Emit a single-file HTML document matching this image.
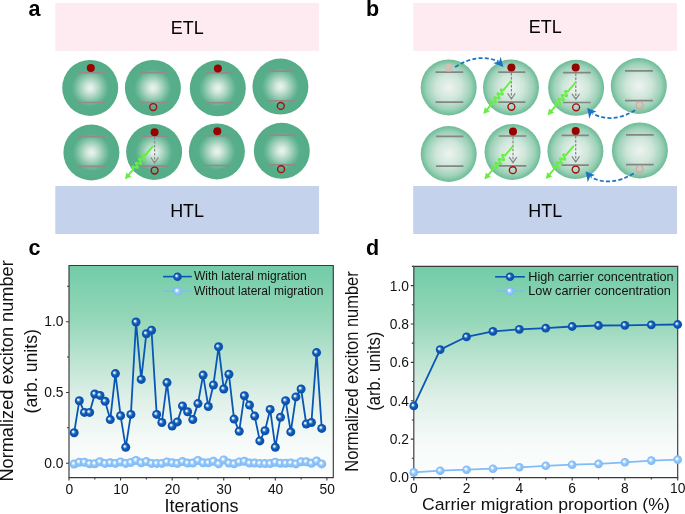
<!DOCTYPE html>
<html><head><meta charset="utf-8"><style>
html,body{margin:0;padding:0;background:#fff;overflow:hidden;}
svg{display:block;will-change:transform;}
text{font-family:"Liberation Sans", sans-serif;}
</style></head><body>
<svg width="685" height="514" viewBox="0 0 685 514">

<defs>
 <radialGradient id="gA" cx="50%" cy="50%" r="50%">
  <stop offset="0" stop-color="#eef3f0"/>
  <stop offset="0.14" stop-color="#d6e9e0"/>
  <stop offset="0.36" stop-color="#9fd0b9"/>
  <stop offset="0.52" stop-color="#75bd9d"/>
  <stop offset="0.66" stop-color="#57ae8a"/>
  <stop offset="1" stop-color="#55ad88"/>
 </radialGradient>
 <radialGradient id="gB" cx="50%" cy="50%" r="50%">
  <stop offset="0" stop-color="#eef3f0"/>
  <stop offset="0.45" stop-color="#cfe6da"/>
  <stop offset="0.8" stop-color="#9dd1b8"/>
  <stop offset="1" stop-color="#6abb96"/>
 </radialGradient>
 <linearGradient id="bg" x1="0" y1="0" x2="0" y2="1">
  <stop offset="0" stop-color="#72cca7"/>
  <stop offset="0.256" stop-color="#95d7b9"/>
  <stop offset="0.445" stop-color="#bde4d2"/>
  <stop offset="0.635" stop-color="#e0f0e9"/>
  <stop offset="0.825" stop-color="#f5faf8"/>
  <stop offset="1" stop-color="#fdfefe"/>
 </linearGradient>
 <radialGradient id="sD" cx="50%" cy="50%" r="50%" fx="35%" fy="37%">
  <stop offset="0" stop-color="#ffffff"/>
  <stop offset="0.14" stop-color="#e6eef9"/>
  <stop offset="0.4" stop-color="#3a7cc6"/>
  <stop offset="0.58" stop-color="#0b57b5"/>
  <stop offset="1" stop-color="#0a50aa"/>
 </radialGradient>
 <radialGradient id="sL" cx="50%" cy="50%" r="50%" fx="38%" fy="38%">
  <stop offset="0" stop-color="#ffffff"/>
  <stop offset="0.18" stop-color="#f2f8fe"/>
  <stop offset="0.48" stop-color="#98c9f8"/>
  <stop offset="1" stop-color="#78b8f8"/>
 </radialGradient>
</defs>

<text transform="translate(28.60 15.90)" font-size="21.5" text-anchor="start" font-weight="bold" fill="#000" >a</text>
<text transform="translate(366.00 15.90)" font-size="21.5" text-anchor="start" font-weight="bold" fill="#000" >b</text>
<text transform="translate(28.60 255.20)" font-size="21.5" text-anchor="start" font-weight="bold" fill="#000" >c</text>
<text transform="translate(366.00 254.90)" font-size="21.5" text-anchor="start" font-weight="bold" fill="#000" >d</text>
<rect x="55.3" y="2.9" width="263.8" height="48" fill="#feebf1"/>
<rect x="55.3" y="186" width="263.8" height="48" fill="#c4d2ec"/>
<rect x="413.2" y="2.9" width="263.8" height="48" fill="#feebf1"/>
<rect x="413.2" y="186" width="263.8" height="48" fill="#c4d2ec"/>
<text transform="translate(187.20 33.70) scale(0.9700 1)" font-size="18.5" text-anchor="middle" font-weight="normal" fill="#000" >ETL</text>
<text transform="translate(187.10 216.80) scale(0.9700 1)" font-size="18.5" text-anchor="middle" font-weight="normal" fill="#000" >HTL</text>
<text transform="translate(545.30 33.40) scale(0.9700 1)" font-size="18.5" text-anchor="middle" font-weight="normal" fill="#000" >ETL</text>
<text transform="translate(545.30 216.50) scale(0.9700 1)" font-size="18.5" text-anchor="middle" font-weight="normal" fill="#000" >HTL</text>
<circle cx="90.2" cy="87.9" r="28" fill="url(#gA)"/>
<path d="M77.5 72.6H105.0M77.5 102.5H105.0" stroke="#948a8d" stroke-width="1.6" fill="none"/>
<circle cx="152.9" cy="87.9" r="28" fill="url(#gA)"/>
<path d="M139.9 72.6H167.6M139.9 102.5H167.6" stroke="#948a8d" stroke-width="1.6" fill="none"/>
<circle cx="217.8" cy="88.3" r="28" fill="url(#gA)"/>
<path d="M205.0 72.9H232.6M205.0 102.8H232.6" stroke="#948a8d" stroke-width="1.6" fill="none"/>
<circle cx="280.4" cy="86.6" r="28" fill="url(#gA)"/>
<path d="M267.3 71.1H295.0M267.3 100.9H295.0" stroke="#948a8d" stroke-width="1.6" fill="none"/>
<circle cx="91.4" cy="152.5" r="28" fill="url(#gA)"/>
<path d="M78.1 136.6H105.5M78.1 166.4H105.5" stroke="#948a8d" stroke-width="1.6" fill="none"/>
<circle cx="154.1" cy="152.0" r="28" fill="url(#gA)"/>
<path d="M140.6 136.3H167.8M140.6 166.1H167.8" stroke="#948a8d" stroke-width="1.6" fill="none"/>
<circle cx="216.9" cy="151.4" r="28" fill="url(#gA)"/>
<path d="M203.6 135.7H231.0M203.6 165.5H231.0" stroke="#948a8d" stroke-width="1.6" fill="none"/>
<circle cx="281.8" cy="150.8" r="28" fill="url(#gA)"/>
<path d="M268.2 135.1H295.6M268.2 164.9H295.6" stroke="#948a8d" stroke-width="1.6" fill="none"/>
<circle cx="90.8" cy="67.9" r="4.0" fill="#990000"/>
<circle cx="217.9" cy="68.5" r="4.0" fill="#990000"/>
<circle cx="154.6" cy="132.2" r="4.0" fill="#990000"/>
<circle cx="217.3" cy="131.3" r="4.0" fill="#990000"/>
<circle cx="153.2" cy="107.0" r="3.45" fill="none" stroke="#a50c0c" stroke-width="1.35"/>
<circle cx="280.8" cy="105.9" r="3.45" fill="none" stroke="#a50c0c" stroke-width="1.35"/>
<circle cx="154.6" cy="170.5" r="3.45" fill="none" stroke="#a50c0c" stroke-width="1.35"/>
<circle cx="281.1" cy="169.2" r="3.45" fill="none" stroke="#a50c0c" stroke-width="1.35"/>
<path d="M154.6 137.0V162.6" stroke="#8f8a8c" stroke-width="1.2" stroke-dasharray="2.6 1.4" fill="none"/>
<path d="M150.8 157.4L154.6 163.0L158.4 157.4" stroke="#8f8a8c" stroke-width="1.2" fill="none"/>
<path d="M152.60 146.60 L145.12 155.43 L144.07 155.03 L143.18 154.77 L142.60 154.77 L142.38 155.08 L142.53 155.69 L142.97 156.55 L143.54 157.53 L144.10 158.49 L144.46 159.29 L144.51 159.83 L144.19 160.05 L143.51 159.96 L142.56 159.65 L141.49 159.23 L140.47 158.86 L139.66 158.66 L139.17 158.75 L139.07 159.15 L139.31 159.84 L139.80 160.75 L140.39 161.74 L140.90 162.67 L141.19 163.40 L141.14 163.85 L140.70 163.97 L139.93 163.81 L138.93 163.46 L137.86 163.04 L136.88 162.70 L136.16 162.58 L135.78 162.75 L135.78 163.24 L136.11 164.01 L136.64 164.95 L137.23 165.94 L137.69 166.83 L137.89 167.48 L137.73 167.84 L137.19 167.88 L136.34 167.65 L135.30 167.26 L134.24 166.85 L133.32 166.57 L132.69 166.52 L132.42 166.78 L132.52 167.36 L132.92 168.19 L133.49 169.16 L128.58 174.95" stroke="#66ee44" stroke-width="1.9" fill="none" stroke-linejoin="round" stroke-linecap="round"/>
<path d="M124.90 179.30L126.39 172.44L131.43 176.70Z" fill="#66ee44"/>
<circle cx="448.7" cy="87.4" r="28" fill="url(#gB)"/>
<path d="M435.5 72.2H463.3M435.5 102.1H463.3" stroke="#858585" stroke-width="1.7" fill="none"/>
<circle cx="511.0" cy="87.5" r="28" fill="url(#gB)"/>
<path d="M498.2 72.2H525.4M498.2 102.1H525.4" stroke="#858585" stroke-width="1.7" fill="none"/>
<circle cx="576.1" cy="87.8" r="28" fill="url(#gB)"/>
<path d="M562.9 72.6H590.8M562.9 102.5H590.8" stroke="#858585" stroke-width="1.7" fill="none"/>
<circle cx="638.8" cy="86.0" r="28" fill="url(#gB)"/>
<path d="M625.0 70.8H653.0M625.0 100.7H653.0" stroke="#858585" stroke-width="1.7" fill="none"/>
<circle cx="448.7" cy="154.0" r="28" fill="url(#gB)"/>
<path d="M436.0 136.4H463.5M436.0 166.2H463.5" stroke="#858585" stroke-width="1.7" fill="none"/>
<circle cx="512.6" cy="152.0" r="28" fill="url(#gB)"/>
<path d="M498.7 136.0H526.3M498.7 165.8H526.3" stroke="#858585" stroke-width="1.7" fill="none"/>
<circle cx="575.4" cy="151.1" r="28" fill="url(#gB)"/>
<path d="M561.5 135.3H588.8M561.5 165.1H588.8" stroke="#858585" stroke-width="1.7" fill="none"/>
<circle cx="639.9" cy="150.4" r="28" fill="url(#gB)"/>
<path d="M626.0 134.8H653.7M626.0 164.6H653.7" stroke="#858585" stroke-width="1.7" fill="none"/>
<circle cx="448.8" cy="67.7" r="3.9" fill="#d5beb5"/>
<circle cx="639.6" cy="105.4" r="3.4" fill="none" stroke="#e0a09a" stroke-width="1.1"/>
<circle cx="639.6" cy="169.0" r="3.4" fill="none" stroke="#e0a09a" stroke-width="1.1"/>
<circle cx="511.4" cy="67.6" r="4.0" fill="#990000"/>
<circle cx="575.7" cy="67.6" r="4.0" fill="#990000"/>
<circle cx="513.0" cy="131.5" r="4.0" fill="#990000"/>
<circle cx="575.7" cy="130.9" r="4.0" fill="#990000"/>
<circle cx="511.4" cy="106.8" r="3.45" fill="none" stroke="#a50c0c" stroke-width="1.35"/>
<circle cx="576.1" cy="107.3" r="3.45" fill="none" stroke="#a50c0c" stroke-width="1.35"/>
<circle cx="512.8" cy="170.2" r="3.45" fill="none" stroke="#a50c0c" stroke-width="1.35"/>
<circle cx="575.7" cy="169.5" r="3.45" fill="none" stroke="#a50c0c" stroke-width="1.35"/>
<path d="M511.4 73.0V98.6" stroke="#858585" stroke-width="1.2" stroke-dasharray="2.6 1.4" fill="none"/>
<path d="M507.6 93.4L511.4 99.0L515.2 93.4" stroke="#858585" stroke-width="1.2" fill="none"/>
<path d="M575.8 73.3V99.0" stroke="#858585" stroke-width="1.2" stroke-dasharray="2.6 1.4" fill="none"/>
<path d="M572.0 93.8L575.8 99.3L579.6 93.8" stroke="#858585" stroke-width="1.2" fill="none"/>
<path d="M513.0 136.7V162.3" stroke="#858585" stroke-width="1.2" stroke-dasharray="2.6 1.4" fill="none"/>
<path d="M509.2 157.1L513.0 162.7L516.8 157.1" stroke="#858585" stroke-width="1.2" fill="none"/>
<path d="M575.7 136.0V161.6" stroke="#858585" stroke-width="1.2" stroke-dasharray="2.6 1.4" fill="none"/>
<path d="M571.9 156.4L575.7 162.0L579.5 156.4" stroke="#858585" stroke-width="1.2" fill="none"/>
<path d="M510.90 81.20 L503.45 90.06 L502.39 89.66 L501.51 89.40 L500.92 89.40 L500.71 89.71 L500.86 90.33 L501.30 91.19 L501.88 92.17 L502.43 93.12 L502.80 93.92 L502.85 94.46 L502.53 94.68 L501.85 94.59 L500.90 94.28 L499.83 93.87 L498.81 93.50 L497.99 93.31 L497.51 93.39 L497.40 93.79 L497.65 94.49 L498.14 95.40 L498.73 96.38 L499.25 97.31 L499.54 98.04 L499.49 98.49 L499.06 98.62 L498.29 98.46 L497.29 98.11 L496.21 97.69 L495.23 97.36 L494.51 97.24 L494.13 97.41 L494.13 97.90 L494.46 98.67 L495.00 99.61 L495.59 100.60 L496.05 101.48 L496.25 102.14 L496.09 102.49 L495.56 102.53 L494.71 102.31 L493.67 101.92 L492.60 101.52 L491.68 101.24 L491.05 101.19 L490.78 101.46 L490.88 102.03 L491.29 102.86 L491.86 103.83 L486.97 109.64" stroke="#66ee44" stroke-width="1.9" fill="none" stroke-linejoin="round" stroke-linecap="round"/>
<path d="M483.30 114.00L484.77 107.13L489.82 111.38Z" fill="#66ee44"/>
<path d="M575.20 82.90 L567.75 91.65 L566.70 91.24 L565.82 90.98 L565.23 90.97 L565.02 91.28 L565.17 91.90 L565.60 92.75 L566.18 93.73 L566.73 94.69 L567.09 95.49 L567.14 96.03 L566.82 96.24 L566.14 96.15 L565.20 95.83 L564.13 95.41 L563.11 95.04 L562.30 94.84 L561.82 94.91 L561.71 95.31 L561.95 96.01 L562.45 96.92 L563.03 97.91 L563.55 98.83 L563.83 99.56 L563.78 100.01 L563.35 100.13 L562.58 99.97 L561.58 99.61 L560.51 99.18 L559.54 98.84 L558.82 98.72 L558.44 98.88 L558.44 99.37 L558.76 100.14 L559.30 101.08 L559.88 102.07 L560.35 102.95 L560.54 103.61 L560.38 103.96 L559.85 104.00 L559.00 103.77 L557.97 103.37 L556.91 102.96 L555.99 102.67 L555.36 102.62 L555.09 102.88 L555.19 103.45 L555.59 104.28 L556.16 105.26 L551.30 110.96" stroke="#66ee44" stroke-width="1.9" fill="none" stroke-linejoin="round" stroke-linecap="round"/>
<path d="M547.60 115.30L549.11 108.44L554.13 112.72Z" fill="#66ee44"/>
<path d="M512.40 146.80 L504.84 155.60 L503.79 155.20 L502.91 154.93 L502.32 154.92 L502.10 155.23 L502.25 155.85 L502.67 156.72 L503.24 157.70 L503.79 158.67 L504.15 159.47 L504.20 160.00 L503.87 160.22 L503.19 160.13 L502.24 159.81 L501.17 159.39 L500.15 159.01 L499.34 158.81 L498.86 158.89 L498.75 159.29 L498.98 159.99 L499.47 160.90 L500.05 161.90 L500.56 162.83 L500.84 163.57 L500.78 164.01 L500.35 164.14 L499.58 163.97 L498.58 163.61 L497.51 163.18 L496.53 162.84 L495.81 162.71 L495.43 162.88 L495.42 163.38 L495.74 164.15 L496.27 165.10 L496.85 166.09 L497.31 166.98 L497.50 167.64 L497.34 167.99 L496.80 168.03 L495.95 167.79 L494.91 167.40 L493.85 166.98 L492.94 166.69 L492.30 166.64 L492.03 166.90 L492.13 167.48 L492.52 168.32 L493.08 169.29 L488.11 175.08" stroke="#66ee44" stroke-width="1.9" fill="none" stroke-linejoin="round" stroke-linecap="round"/>
<path d="M484.40 179.40L485.94 172.55L490.94 176.85Z" fill="#66ee44"/>
<path d="M573.30 146.30 L565.85 155.13 L564.80 154.73 L563.91 154.47 L563.32 154.47 L563.11 154.78 L563.26 155.40 L563.70 156.25 L564.28 157.23 L564.83 158.19 L565.20 158.99 L565.25 159.53 L564.93 159.74 L564.25 159.66 L563.30 159.35 L562.23 158.93 L561.21 158.56 L560.40 158.37 L559.91 158.45 L559.81 158.85 L560.05 159.54 L560.54 160.45 L561.13 161.44 L561.65 162.37 L561.94 163.10 L561.89 163.54 L561.46 163.67 L560.69 163.51 L559.69 163.16 L558.61 162.74 L557.64 162.41 L556.91 162.28 L556.53 162.45 L556.53 162.94 L556.86 163.71 L557.40 164.66 L557.99 165.64 L558.45 166.52 L558.65 167.18 L558.49 167.54 L557.95 167.57 L557.11 167.35 L556.07 166.96 L555.00 166.55 L554.08 166.27 L553.45 166.22 L553.18 166.49 L553.28 167.06 L553.69 167.89 L554.26 168.86 L549.38 174.64" stroke="#66ee44" stroke-width="1.9" fill="none" stroke-linejoin="round" stroke-linecap="round"/>
<path d="M545.70 179.00L547.18 172.13L552.22 176.39Z" fill="#66ee44"/>
<path d="M455.1 67.1Q478 52.4 498.5 61.5" stroke="#1a72c6" stroke-width="1.75" stroke-dasharray="4.0 2.3" fill="none"/>
<path d="M503.4 67.1L500.6 56.8L499.2 61.6L493.2 63.0Z" fill="#1a72c6"/>
<path d="M635.2 110.2Q612 124 592.5 113.5" stroke="#1a72c6" stroke-width="1.75" stroke-dasharray="4.0 2.3" fill="none"/>
<path d="M587.2 108.0L589.3 118.8L591.4 113.6L596.4 111.6Z" fill="#1a72c6"/>
<path d="M633.7 173.4Q610 187.5 591 177" stroke="#1a72c6" stroke-width="1.75" stroke-dasharray="4.0 2.3" fill="none"/>
<path d="M585.7 171.4L587.8 182.2L589.9 177.0L594.9 175.0Z" fill="#1a72c6"/>
<rect x="69.0" y="265.5" width="264.3" height="212.10000000000002" fill="url(#bg)"/>
<path d="M69.0 265.5H333.3V477.6H69.0Z" stroke="#3a3a3a" stroke-width="1.15" fill="none"/>
<path d="M74.16 464.00 L79.32 462.20 L84.47 462.20 L89.63 463.70 L94.79 463.70 L99.95 461.80 L105.11 463.40 L110.26 462.80 L115.42 463.40 L120.58 461.90 L125.74 463.40 L130.90 462.40 L136.05 460.40 L141.21 462.80 L146.37 461.60 L151.53 463.40 L156.69 463.40 L161.84 463.40 L167.00 461.90 L172.16 462.80 L177.32 463.40 L182.48 461.60 L187.63 463.10 L192.79 463.10 L197.95 460.40 L203.11 462.80 L208.27 462.80 L213.42 461.30 L218.58 463.80 L223.74 459.90 L228.90 463.10 L234.06 463.80 L239.21 461.90 L244.37 461.30 L249.53 463.10 L254.69 463.10 L259.85 463.40 L265.00 463.60 L270.16 463.60 L275.32 462.20 L280.48 463.20 L285.64 463.20 L290.79 463.00 L295.95 463.90 L301.11 461.80 L306.27 461.80 L311.43 463.30 L316.58 461.00 L321.74 463.90" stroke="#80bcf8" stroke-width="1.8" fill="none" stroke-linejoin="round"/>
<circle cx="74.16" cy="464.00" r="4.5" fill="url(#sL)"/>
<circle cx="79.32" cy="462.20" r="4.5" fill="url(#sL)"/>
<circle cx="84.47" cy="462.20" r="4.5" fill="url(#sL)"/>
<circle cx="89.63" cy="463.70" r="4.5" fill="url(#sL)"/>
<circle cx="94.79" cy="463.70" r="4.5" fill="url(#sL)"/>
<circle cx="99.95" cy="461.80" r="4.5" fill="url(#sL)"/>
<circle cx="105.11" cy="463.40" r="4.5" fill="url(#sL)"/>
<circle cx="110.26" cy="462.80" r="4.5" fill="url(#sL)"/>
<circle cx="115.42" cy="463.40" r="4.5" fill="url(#sL)"/>
<circle cx="120.58" cy="461.90" r="4.5" fill="url(#sL)"/>
<circle cx="125.74" cy="463.40" r="4.5" fill="url(#sL)"/>
<circle cx="130.90" cy="462.40" r="4.5" fill="url(#sL)"/>
<circle cx="136.05" cy="460.40" r="4.5" fill="url(#sL)"/>
<circle cx="141.21" cy="462.80" r="4.5" fill="url(#sL)"/>
<circle cx="146.37" cy="461.60" r="4.5" fill="url(#sL)"/>
<circle cx="151.53" cy="463.40" r="4.5" fill="url(#sL)"/>
<circle cx="156.69" cy="463.40" r="4.5" fill="url(#sL)"/>
<circle cx="161.84" cy="463.40" r="4.5" fill="url(#sL)"/>
<circle cx="167.00" cy="461.90" r="4.5" fill="url(#sL)"/>
<circle cx="172.16" cy="462.80" r="4.5" fill="url(#sL)"/>
<circle cx="177.32" cy="463.40" r="4.5" fill="url(#sL)"/>
<circle cx="182.48" cy="461.60" r="4.5" fill="url(#sL)"/>
<circle cx="187.63" cy="463.10" r="4.5" fill="url(#sL)"/>
<circle cx="192.79" cy="463.10" r="4.5" fill="url(#sL)"/>
<circle cx="197.95" cy="460.40" r="4.5" fill="url(#sL)"/>
<circle cx="203.11" cy="462.80" r="4.5" fill="url(#sL)"/>
<circle cx="208.27" cy="462.80" r="4.5" fill="url(#sL)"/>
<circle cx="213.42" cy="461.30" r="4.5" fill="url(#sL)"/>
<circle cx="218.58" cy="463.80" r="4.5" fill="url(#sL)"/>
<circle cx="223.74" cy="459.90" r="4.5" fill="url(#sL)"/>
<circle cx="228.90" cy="463.10" r="4.5" fill="url(#sL)"/>
<circle cx="234.06" cy="463.80" r="4.5" fill="url(#sL)"/>
<circle cx="239.21" cy="461.90" r="4.5" fill="url(#sL)"/>
<circle cx="244.37" cy="461.30" r="4.5" fill="url(#sL)"/>
<circle cx="249.53" cy="463.10" r="4.5" fill="url(#sL)"/>
<circle cx="254.69" cy="463.10" r="4.5" fill="url(#sL)"/>
<circle cx="259.85" cy="463.40" r="4.5" fill="url(#sL)"/>
<circle cx="265.00" cy="463.60" r="4.5" fill="url(#sL)"/>
<circle cx="270.16" cy="463.60" r="4.5" fill="url(#sL)"/>
<circle cx="275.32" cy="462.20" r="4.5" fill="url(#sL)"/>
<circle cx="280.48" cy="463.20" r="4.5" fill="url(#sL)"/>
<circle cx="285.64" cy="463.20" r="4.5" fill="url(#sL)"/>
<circle cx="290.79" cy="463.00" r="4.5" fill="url(#sL)"/>
<circle cx="295.95" cy="463.90" r="4.5" fill="url(#sL)"/>
<circle cx="301.11" cy="461.80" r="4.5" fill="url(#sL)"/>
<circle cx="306.27" cy="461.80" r="4.5" fill="url(#sL)"/>
<circle cx="311.43" cy="463.30" r="4.5" fill="url(#sL)"/>
<circle cx="316.58" cy="461.00" r="4.5" fill="url(#sL)"/>
<circle cx="321.74" cy="463.90" r="4.5" fill="url(#sL)"/>
<path d="M74.16 432.70 L79.32 400.70 L84.47 412.40 L89.63 412.40 L94.79 394.00 L99.95 395.40 L105.11 401.30 L110.26 419.60 L115.42 373.60 L120.58 415.80 L125.74 447.30 L130.90 414.40 L136.05 322.05 L141.21 379.40 L146.37 333.70 L151.53 330.20 L156.69 414.40 L161.84 422.50 L167.00 382.60 L172.16 426.00 L177.32 421.90 L182.48 405.90 L187.63 411.80 L192.79 419.60 L197.95 403.60 L203.11 375.10 L208.27 406.50 L213.42 385.00 L218.58 346.80 L223.74 389.00 L228.90 374.20 L234.06 419.10 L239.21 431.30 L244.37 395.70 L249.53 405.10 L254.69 416.10 L259.85 440.90 L265.00 430.70 L270.16 409.40 L275.32 447.30 L280.48 417.30 L285.64 400.70 L290.79 431.90 L295.95 396.90 L301.11 389.00 L306.27 424.00 L311.43 422.50 L316.58 352.60 L321.74 428.40" stroke="#0a56b4" stroke-width="1.8" fill="none" stroke-linejoin="round"/>
<circle cx="74.16" cy="432.70" r="4.5" fill="url(#sD)"/>
<circle cx="79.32" cy="400.70" r="4.5" fill="url(#sD)"/>
<circle cx="84.47" cy="412.40" r="4.5" fill="url(#sD)"/>
<circle cx="89.63" cy="412.40" r="4.5" fill="url(#sD)"/>
<circle cx="94.79" cy="394.00" r="4.5" fill="url(#sD)"/>
<circle cx="99.95" cy="395.40" r="4.5" fill="url(#sD)"/>
<circle cx="105.11" cy="401.30" r="4.5" fill="url(#sD)"/>
<circle cx="110.26" cy="419.60" r="4.5" fill="url(#sD)"/>
<circle cx="115.42" cy="373.60" r="4.5" fill="url(#sD)"/>
<circle cx="120.58" cy="415.80" r="4.5" fill="url(#sD)"/>
<circle cx="125.74" cy="447.30" r="4.5" fill="url(#sD)"/>
<circle cx="130.90" cy="414.40" r="4.5" fill="url(#sD)"/>
<circle cx="136.05" cy="322.05" r="4.5" fill="url(#sD)"/>
<circle cx="141.21" cy="379.40" r="4.5" fill="url(#sD)"/>
<circle cx="146.37" cy="333.70" r="4.5" fill="url(#sD)"/>
<circle cx="151.53" cy="330.20" r="4.5" fill="url(#sD)"/>
<circle cx="156.69" cy="414.40" r="4.5" fill="url(#sD)"/>
<circle cx="161.84" cy="422.50" r="4.5" fill="url(#sD)"/>
<circle cx="167.00" cy="382.60" r="4.5" fill="url(#sD)"/>
<circle cx="172.16" cy="426.00" r="4.5" fill="url(#sD)"/>
<circle cx="177.32" cy="421.90" r="4.5" fill="url(#sD)"/>
<circle cx="182.48" cy="405.90" r="4.5" fill="url(#sD)"/>
<circle cx="187.63" cy="411.80" r="4.5" fill="url(#sD)"/>
<circle cx="192.79" cy="419.60" r="4.5" fill="url(#sD)"/>
<circle cx="197.95" cy="403.60" r="4.5" fill="url(#sD)"/>
<circle cx="203.11" cy="375.10" r="4.5" fill="url(#sD)"/>
<circle cx="208.27" cy="406.50" r="4.5" fill="url(#sD)"/>
<circle cx="213.42" cy="385.00" r="4.5" fill="url(#sD)"/>
<circle cx="218.58" cy="346.80" r="4.5" fill="url(#sD)"/>
<circle cx="223.74" cy="389.00" r="4.5" fill="url(#sD)"/>
<circle cx="228.90" cy="374.20" r="4.5" fill="url(#sD)"/>
<circle cx="234.06" cy="419.10" r="4.5" fill="url(#sD)"/>
<circle cx="239.21" cy="431.30" r="4.5" fill="url(#sD)"/>
<circle cx="244.37" cy="395.70" r="4.5" fill="url(#sD)"/>
<circle cx="249.53" cy="405.10" r="4.5" fill="url(#sD)"/>
<circle cx="254.69" cy="416.10" r="4.5" fill="url(#sD)"/>
<circle cx="259.85" cy="440.90" r="4.5" fill="url(#sD)"/>
<circle cx="265.00" cy="430.70" r="4.5" fill="url(#sD)"/>
<circle cx="270.16" cy="409.40" r="4.5" fill="url(#sD)"/>
<circle cx="275.32" cy="447.30" r="4.5" fill="url(#sD)"/>
<circle cx="280.48" cy="417.30" r="4.5" fill="url(#sD)"/>
<circle cx="285.64" cy="400.70" r="4.5" fill="url(#sD)"/>
<circle cx="290.79" cy="431.90" r="4.5" fill="url(#sD)"/>
<circle cx="295.95" cy="396.90" r="4.5" fill="url(#sD)"/>
<circle cx="301.11" cy="389.00" r="4.5" fill="url(#sD)"/>
<circle cx="306.27" cy="424.00" r="4.5" fill="url(#sD)"/>
<circle cx="311.43" cy="422.50" r="4.5" fill="url(#sD)"/>
<circle cx="316.58" cy="352.60" r="4.5" fill="url(#sD)"/>
<circle cx="321.74" cy="428.40" r="4.5" fill="url(#sD)"/>
<path d="M66.0 463.20H69.0M67.0 427.82H69.0M66.0 392.45H69.0M67.0 357.07H69.0M66.0 321.70H69.0M67.0 286.32H69.0M69.00 477.6V480.6M94.79 477.6V479.6M120.58 477.6V480.6M146.37 477.6V479.6M172.16 477.6V480.6M197.95 477.6V479.6M223.74 477.6V480.6M249.53 477.6V479.6M275.32 477.6V480.6M301.11 477.6V479.6M326.90 477.6V480.6" stroke="#3a3a3a" stroke-width="1.1" fill="none"/>
<text transform="translate(63.40 467.90)" font-size="13.8" text-anchor="end" font-weight="normal" fill="#111" >0.0</text>
<text transform="translate(63.40 397.15)" font-size="13.8" text-anchor="end" font-weight="normal" fill="#111" >0.5</text>
<text transform="translate(63.40 326.40)" font-size="13.8" text-anchor="end" font-weight="normal" fill="#111" >1.0</text>
<text transform="translate(69.30 493.80)" font-size="13.8" text-anchor="middle" font-weight="normal" fill="#111" >0</text>
<text transform="translate(120.88 493.80)" font-size="13.8" text-anchor="middle" font-weight="normal" fill="#111" >10</text>
<text transform="translate(172.46 493.80)" font-size="13.8" text-anchor="middle" font-weight="normal" fill="#111" >20</text>
<text transform="translate(224.04 493.80)" font-size="13.8" text-anchor="middle" font-weight="normal" fill="#111" >30</text>
<text transform="translate(275.62 493.80)" font-size="13.8" text-anchor="middle" font-weight="normal" fill="#111" >40</text>
<text transform="translate(327.20 493.80)" font-size="13.8" text-anchor="middle" font-weight="normal" fill="#111" >50</text>
<text transform="translate(201.50 511.80)" font-size="18.0" text-anchor="middle" font-weight="normal" fill="#111" >Iterations</text>
<text transform="translate(12.90 370.90) rotate(-90)" font-size="18.2" text-anchor="middle" font-weight="normal" fill="#111" >Normalized exciton number</text>
<text transform="translate(36.50 371.30) rotate(-90) scale(0.9700 1)" font-size="18.2" text-anchor="middle" font-weight="normal" fill="#111" >(arb. units)</text>
<path d="M163.1 276.6H191.8" stroke="#0a56b4" stroke-width="1.6"/>
<circle cx="177.5" cy="276.7" r="4.3" fill="url(#sD)"/>
<path d="M163.1 291.2H191.8" stroke="#80bcf8" stroke-width="1.6"/>
<circle cx="177.5" cy="291.2" r="4.3" fill="url(#sL)"/>
<text transform="translate(194.00 280.30)" font-size="12.0" text-anchor="start" font-weight="normal" fill="#111" >With lateral migration</text>
<text transform="translate(194.00 294.70)" font-size="12.0" text-anchor="start" font-weight="normal" fill="#111" >Without lateral migration</text>
<rect x="413.8" y="266.3" width="263.90000000000003" height="211.3" fill="url(#bg)"/>
<path d="M413.8 266.3H677.7V477.6H413.8Z" stroke="#3a3a3a" stroke-width="1.15" fill="none"/>
<path d="M413.80 472.40 L440.19 470.70 L466.58 469.70 L492.97 468.70 L519.36 467.30 L545.75 465.80 L572.14 464.70 L598.53 463.90 L624.92 462.30 L651.31 460.60 L677.70 459.60" stroke="#80bcf8" stroke-width="1.8" fill="none" stroke-linejoin="round"/>
<circle cx="413.80" cy="472.40" r="4.3" fill="url(#sL)"/>
<circle cx="440.19" cy="470.70" r="4.3" fill="url(#sL)"/>
<circle cx="466.58" cy="469.70" r="4.3" fill="url(#sL)"/>
<circle cx="492.97" cy="468.70" r="4.3" fill="url(#sL)"/>
<circle cx="519.36" cy="467.30" r="4.3" fill="url(#sL)"/>
<circle cx="545.75" cy="465.80" r="4.3" fill="url(#sL)"/>
<circle cx="572.14" cy="464.70" r="4.3" fill="url(#sL)"/>
<circle cx="598.53" cy="463.90" r="4.3" fill="url(#sL)"/>
<circle cx="624.92" cy="462.30" r="4.3" fill="url(#sL)"/>
<circle cx="651.31" cy="460.60" r="4.3" fill="url(#sL)"/>
<circle cx="677.70" cy="459.60" r="4.3" fill="url(#sL)"/>
<path d="M413.80 405.90 L440.19 349.60 L466.58 336.80 L492.97 331.40 L519.36 329.30 L545.75 328.20 L572.14 326.50 L598.53 325.50 L624.92 325.30 L651.31 324.90 L677.70 324.50" stroke="#0a56b4" stroke-width="1.8" fill="none" stroke-linejoin="round"/>
<circle cx="413.80" cy="405.90" r="4.4" fill="url(#sD)"/>
<circle cx="440.19" cy="349.60" r="4.4" fill="url(#sD)"/>
<circle cx="466.58" cy="336.80" r="4.4" fill="url(#sD)"/>
<circle cx="492.97" cy="331.40" r="4.4" fill="url(#sD)"/>
<circle cx="519.36" cy="329.30" r="4.4" fill="url(#sD)"/>
<circle cx="545.75" cy="328.20" r="4.4" fill="url(#sD)"/>
<circle cx="572.14" cy="326.50" r="4.4" fill="url(#sD)"/>
<circle cx="598.53" cy="325.50" r="4.4" fill="url(#sD)"/>
<circle cx="624.92" cy="325.30" r="4.4" fill="url(#sD)"/>
<circle cx="651.31" cy="324.90" r="4.4" fill="url(#sD)"/>
<circle cx="677.70" cy="324.50" r="4.4" fill="url(#sD)"/>
<path d="M410.8 477.50H413.8M411.8 458.31H413.8M410.8 439.12H413.8M411.8 419.93H413.8M410.8 400.74H413.8M411.8 381.55H413.8M410.8 362.36H413.8M411.8 343.17H413.8M410.8 323.98H413.8M411.8 304.79H413.8M410.8 285.60H413.8M411.8 266.41H413.8M413.80 477.6V480.6M440.19 477.6V479.6M466.58 477.6V480.6M492.97 477.6V479.6M519.36 477.6V480.6M545.75 477.6V479.6M572.14 477.6V480.6M598.53 477.6V479.6M624.92 477.6V480.6M651.31 477.6V479.6M677.70 477.6V480.6" stroke="#3a3a3a" stroke-width="1.1" fill="none"/>
<text transform="translate(408.90 482.40)" font-size="13.8" text-anchor="end" font-weight="normal" fill="#111" >0.0</text>
<text transform="translate(408.90 444.02)" font-size="13.8" text-anchor="end" font-weight="normal" fill="#111" >0.2</text>
<text transform="translate(408.90 405.64)" font-size="13.8" text-anchor="end" font-weight="normal" fill="#111" >0.4</text>
<text transform="translate(408.90 367.26)" font-size="13.8" text-anchor="end" font-weight="normal" fill="#111" >0.6</text>
<text transform="translate(408.90 328.88)" font-size="13.8" text-anchor="end" font-weight="normal" fill="#111" >0.8</text>
<text transform="translate(408.90 290.50)" font-size="13.8" text-anchor="end" font-weight="normal" fill="#111" >1.0</text>
<text transform="translate(413.80 492.60)" font-size="13.8" text-anchor="middle" font-weight="normal" fill="#111" >0</text>
<text transform="translate(466.58 492.60)" font-size="13.8" text-anchor="middle" font-weight="normal" fill="#111" >2</text>
<text transform="translate(519.36 492.60)" font-size="13.8" text-anchor="middle" font-weight="normal" fill="#111" >4</text>
<text transform="translate(572.14 492.60)" font-size="13.8" text-anchor="middle" font-weight="normal" fill="#111" >6</text>
<text transform="translate(624.92 492.60)" font-size="13.8" text-anchor="middle" font-weight="normal" fill="#111" >8</text>
<text transform="translate(677.70 492.60)" font-size="13.8" text-anchor="middle" font-weight="normal" fill="#111" >10</text>
<text transform="translate(545.90 510.30) scale(1.0250 1)" font-size="17.2" text-anchor="middle" font-weight="normal" fill="#111" >Carrier migration proportion (%)</text>
<text transform="translate(357.80 371.50) rotate(-90) scale(0.8860 1)" font-size="18.6" text-anchor="middle" font-weight="normal" fill="#111" >Normalized exciton number</text>
<text transform="translate(380.40 371.20) rotate(-90) scale(0.9000 1)" font-size="18.4" text-anchor="middle" font-weight="normal" fill="#111" >(arb. units)</text>
<path d="M495.1 276.8H524.9" stroke="#0a56b4" stroke-width="1.6"/>
<circle cx="510.0" cy="276.8" r="4.3" fill="url(#sD)"/>
<path d="M495.1 291.2H524.9" stroke="#80bcf8" stroke-width="1.6"/>
<circle cx="510.0" cy="291.2" r="4.3" fill="url(#sL)"/>
<text transform="translate(528.30 280.70) scale(1.0500 1)" font-size="12.1" text-anchor="start" font-weight="normal" fill="#111" >High carrier concentration</text>
<text transform="translate(528.30 295.20) scale(1.0500 1)" font-size="12.1" text-anchor="start" font-weight="normal" fill="#111" >Low carrier concentration</text>
</svg>
</body></html>
